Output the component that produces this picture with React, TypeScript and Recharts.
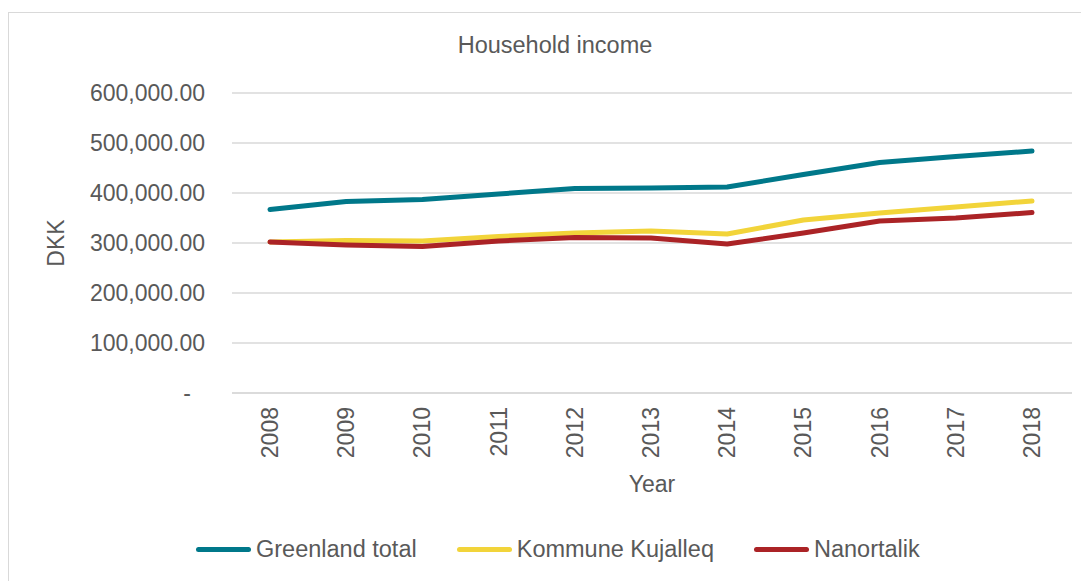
import React from 'react';
import { LineChart, Line, XAxis, YAxis, CartesianGrid } from 'recharts';

const years = ['2008', '2009', '2010', '2011', '2012', '2013', '2014', '2015', '2016', '2017', '2018'];
const greenlandTotal = [367000, 383000, 387000, 398000, 409000, 410000, 412000, 437000, 461000, 473000, 484000];
const kommuneKujalleq = [302000, 305000, 304000, 313000, 320000, 324000, 318000, 346000, 360000, 372000, 384000];
const nanortalik = [302000, 296000, 293000, 304000, 311000, 310000, 298000, 320000, 344000, 350000, 361000];
const yTicks = [0, 100000, 200000, 300000, 400000, 500000, 600000];

const series = [
  { key: 'greenland', name: 'Greenland total', color: '#00788a' },
  { key: 'kujalleq', name: 'Kommune Kujalleq', color: '#f2d43a' },
  { key: 'nanortalik', name: 'Nanortalik', color: '#ab2326' },
];

const data = years.map((year, i) => ({
  year,
  greenland: greenlandTotal[i],
  kujalleq: kommuneKujalleq[i],
  nanortalik: nanortalik[i],
}));

const FONT = '"Liberation Sans", Arial, sans-serif';
const TEXT = '#595959';

const fmt = (v: number) =>
  v === 0 ? '-' : v.toLocaleString('en-US', { minimumFractionDigits: 2, maximumFractionDigits: 2 });

const YTick = (props: any) => {
  const { x, y, payload } = props;
  const v = payload.value as number;
  return (
    <text x={v === 0 ? x - 14 : x} y={y} dy="0.35em" textAnchor="end" fill={TEXT} fontSize={23} fontFamily={FONT}>
      {fmt(v)}
    </text>
  );
};

const XTick = (props: any) => {
  const { x, y, payload } = props;
  return (
    <text
      x={x}
      y={y}
      dy="0.35em"
      textAnchor="end"
      transform={`rotate(-90, ${x}, ${y})`}
      fill={TEXT}
      fontSize={23}
      fontFamily={FONT}
    >
      {payload.value}
    </text>
  );
};

const DkkLabel = (props: any) => {
  const { viewBox } = props;
  const cx = viewBox.x + 47;
  const cy = viewBox.y + viewBox.height / 2;
  return (
    <text
      x={cx}
      y={cy}
      dy="0.35em"
      textAnchor="middle"
      transform={`rotate(-90, ${cx}, ${cy})`}
      fill={TEXT}
      fontSize={23}
      fontFamily={FONT}
    >
      DKK
    </text>
  );
};

const YearLabel = (props: any) => {
  const { viewBox } = props;
  const cx = viewBox.x + viewBox.width / 2;
  return (
    <text x={cx} y={471} dy="0.35em" textAnchor="middle" fill={TEXT} fontSize={23} fontFamily={FONT}>
      Year
    </text>
  );
};

export default function App() {
  return (
    <div
      style={{
        position: 'relative',
        marginTop: 4,
        width: 1081,
        height: 569,
        boxSizing: 'border-box',
        borderTop: '1px solid #d9d9d9',
        borderLeft: '1px solid #d9d9d9',
        fontFamily: FONT,
        overflow: 'hidden',
      }}
    >
      <div
        style={{
          position: 'absolute',
          left: 0,
          top: 21,
          width: 1092,
          textAlign: 'center',
          fontSize: 23.5,
          lineHeight: '23px',
          color: TEXT,
        }}
      >
        Household income
      </div>
      <div style={{ position: 'absolute', left: 0, top: 0 }}>
        <LineChart width={1080} height={568} data={data} margin={{ top: 80, right: 17, left: 0, bottom: 78 }}>
          <CartesianGrid vertical={false} stroke="#d9d9d9" strokeWidth={1.5} />
          <XAxis
            dataKey="year"
            height={110}
            padding={{ left: 38, right: 40 }}
            tick={<XTick />}
            tickLine={false}
            tickSize={6}
            tickMargin={8}
            axisLine={{ stroke: '#d9d9d9', strokeWidth: 1.5 }}
            interval={0}
            label={<YearLabel />}
          />
          <YAxis
            width={223}
            domain={[0, 600000]}
            ticks={yTicks}
            tick={<YTick />}
            tickLine={false}
            axisLine={false}
            tickSize={6}
            tickMargin={21}
            label={<DkkLabel />}
          />
          {series.map((s) => (
            <Line
              key={s.key}
              dataKey={s.key}
              name={s.name}
              stroke={s.color}
              strokeWidth={5}
              strokeLinecap="round"
              strokeLinejoin="round"
              dot={false}
              activeDot={false}
              isAnimationActive={false}
            />
          ))}
        </LineChart>
      </div>
      <div
        style={{
          position: 'absolute',
          left: 187,
          top: 523,
          height: 26,
          display: 'flex',
          alignItems: 'center',
          fontSize: 23.5,
          color: TEXT,
          whiteSpace: 'nowrap',
        }}
      >
        {series.map((s) => (
          <div key={s.key} style={{ display: 'flex', alignItems: 'center', marginRight: 40 }}>
            <span
              style={{
                display: 'inline-block',
                width: 55,
                height: 5,
                borderRadius: 3,
                background: s.color,
                marginRight: 5,
              }}
            />
            <span>{s.name}</span>
          </div>
        ))}
      </div>
    </div>
  );
}
